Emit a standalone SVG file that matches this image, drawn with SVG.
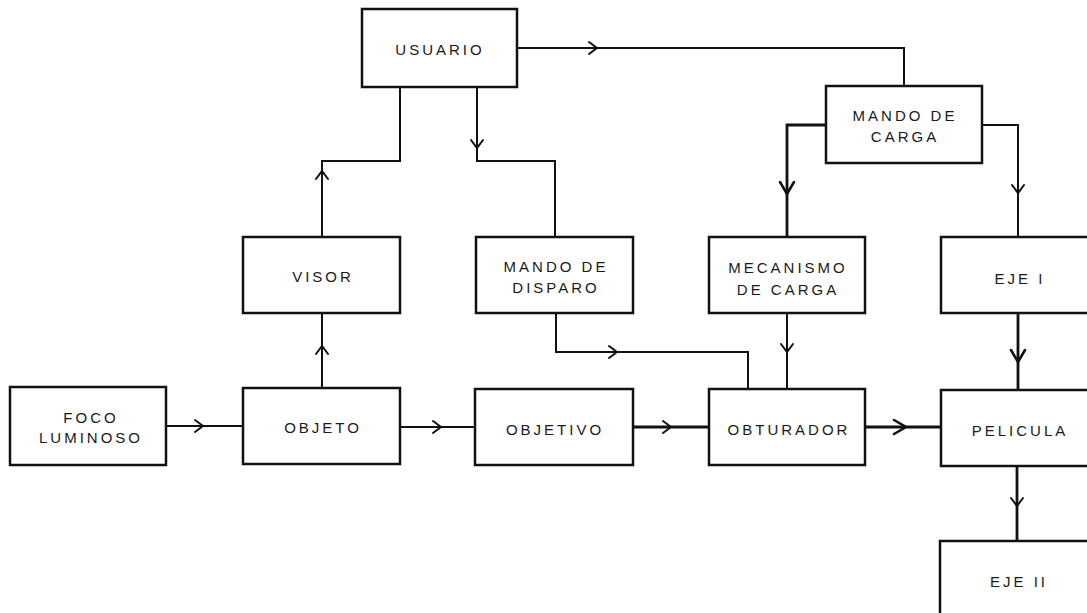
<svg xmlns="http://www.w3.org/2000/svg" width="1087" height="613" viewBox="0 0 1087 613">
<style>
  .box rect { fill: #fff; stroke: #111; stroke-width: 2.5; }
  .box text { font-family: "Liberation Sans", Arial, sans-serif; font-size: 15px; letter-spacing: 3px; fill: #1a1a1a; text-anchor: middle; }
  .conn path { fill: none; stroke: #111; stroke-width: 2; stroke-linejoin: miter; }
  .conn path.thick { stroke-width: 2.8; }
  .conn path.a { stroke-width: 0.1; }
  .chev { fill: none; stroke: #111; stroke-width: 2; stroke-linecap: round; stroke-linejoin: miter; }
</style>
<defs>
  <marker id="ar" markerUnits="userSpaceOnUse" markerWidth="16" markerHeight="16" viewBox="-12 -8 16 16" refX="0" refY="0" orient="auto" overflow="visible">
    <path class="chev" d="M -8 -6 L 0 0 L -8 6"/>
  </marker>
  <marker id="arB" markerUnits="userSpaceOnUse" markerWidth="20" markerHeight="20" viewBox="-15 -10 20 20" refX="0" refY="0" orient="auto" overflow="visible">
    <path class="chev" style="stroke-width:2.6" d="M -12 -7 L 0 0 L -12 7"/>
  </marker>
</defs>
<rect width="1087" height="613" fill="#fff"/>

<g id="connectors" class="conn">
  <path d="M166 426 L243 426"/>
  <path class="a" marker-end="url(#ar)" d="M202 426 L203 426"/>
  <path d="M400 427 L476 427"/>
  <path class="a" marker-end="url(#ar)" d="M440 427 L441 427"/>
  <path class="thick" d="M633 427 L709 427"/>
  <path class="a" marker-end="url(#ar)" d="M670 427 L671 427"/>
  <path class="thick" d="M865 427 L941 427"/>
  <path class="a" marker-end="url(#arB)" d="M905 427 L906 427"/>
  <path d="M322 388 L322 313"/>
  <path class="a" marker-end="url(#ar)" d="M322 347 L322 346"/>
  <path d="M322 237 L322 161 L400 161 L400 87"/>
  <path class="a" marker-end="url(#ar)" d="M322 172 L322 171"/>
  <path d="M477 87 L477 161 L555 161 L555 237"/>
  <path class="a" marker-end="url(#ar)" d="M477 147 L477 148"/>
  <path d="M517 48 L904 48 L904 86"/>
  <path class="a" marker-end="url(#ar)" d="M596 48 L597 48"/>
  <path class="thick" d="M826 125 L787 125 L787 237"/>
  <path class="a" marker-end="url(#arB)" d="M787 193 L787 194"/>
  <path d="M982 125 L1018 125 L1018 237"/>
  <path class="a" marker-end="url(#ar)" d="M1018 192 L1018 193"/>
  <path d="M556 313 L556 352 L748 352 L748 389"/>
  <path class="a" marker-end="url(#ar)" d="M616 352 L617 352"/>
  <path d="M787 313 L787 389"/>
  <path class="a" marker-end="url(#ar)" d="M787 351 L787 352"/>
  <path class="thick" d="M1018 313 L1018 390"/>
  <path class="a" marker-end="url(#arB)" d="M1018 361 L1018 362"/>
  <path class="thick" d="M1017 466 L1017 541"/>
  <path class="a" marker-end="url(#ar)" d="M1017 505 L1017 506"/>
</g>

<g id="usuario" class="box">
  <rect x="362" y="9" width="155" height="78"/>
  <text x="440" y="54.5">USUARIO</text>
</g>
<g id="mando-carga" class="box">
  <rect x="826" y="86" width="156" height="77"/>
  <text x="905" y="120.5">MANDO DE</text>
  <text x="905" y="142">CARGA</text>
</g>
<g id="visor" class="box">
  <rect x="243" y="237" width="157" height="76"/>
  <text x="323" y="281.5">VISOR</text>
</g>
<g id="mando-disparo" class="box">
  <rect x="476" y="237" width="157" height="76"/>
  <text x="556" y="272">MANDO DE</text>
  <text x="556" y="293">DISPARO</text>
</g>
<g id="mecanismo" class="box">
  <rect x="709" y="237" width="156" height="76"/>
  <text x="788" y="272.5">MECANISMO</text>
  <text x="788" y="294.5">DE CARGA</text>
</g>
<g id="eje1" class="box">
  <rect x="941" y="237" width="156" height="76"/>
  <text x="1020" y="283.5">EJE I</text>
</g>
<g id="foco" class="box">
  <rect x="10" y="387" width="156" height="78"/>
  <text x="91" y="422.5">FOCO</text>
  <text x="91" y="443">LUMINOSO</text>
</g>
<g id="objeto" class="box">
  <rect x="243" y="388" width="157" height="76"/>
  <text x="323" y="433">OBJETO</text>
</g>
<g id="objetivo" class="box">
  <rect x="475" y="389" width="158" height="76"/>
  <text x="555" y="434.5">OBJETIVO</text>
</g>
<g id="obturador" class="box">
  <rect x="709" y="389" width="156" height="76"/>
  <text x="789" y="434.5">OBTURADOR</text>
</g>
<g id="pelicula" class="box">
  <rect x="941" y="390" width="156" height="76"/>
  <text x="1020" y="435.5">PELICULA</text>
</g>
<g id="eje2" class="box">
  <rect x="940" y="541" width="157" height="76"/>
  <text x="1019" y="586.5">EJE II</text>
</g>
</svg>
